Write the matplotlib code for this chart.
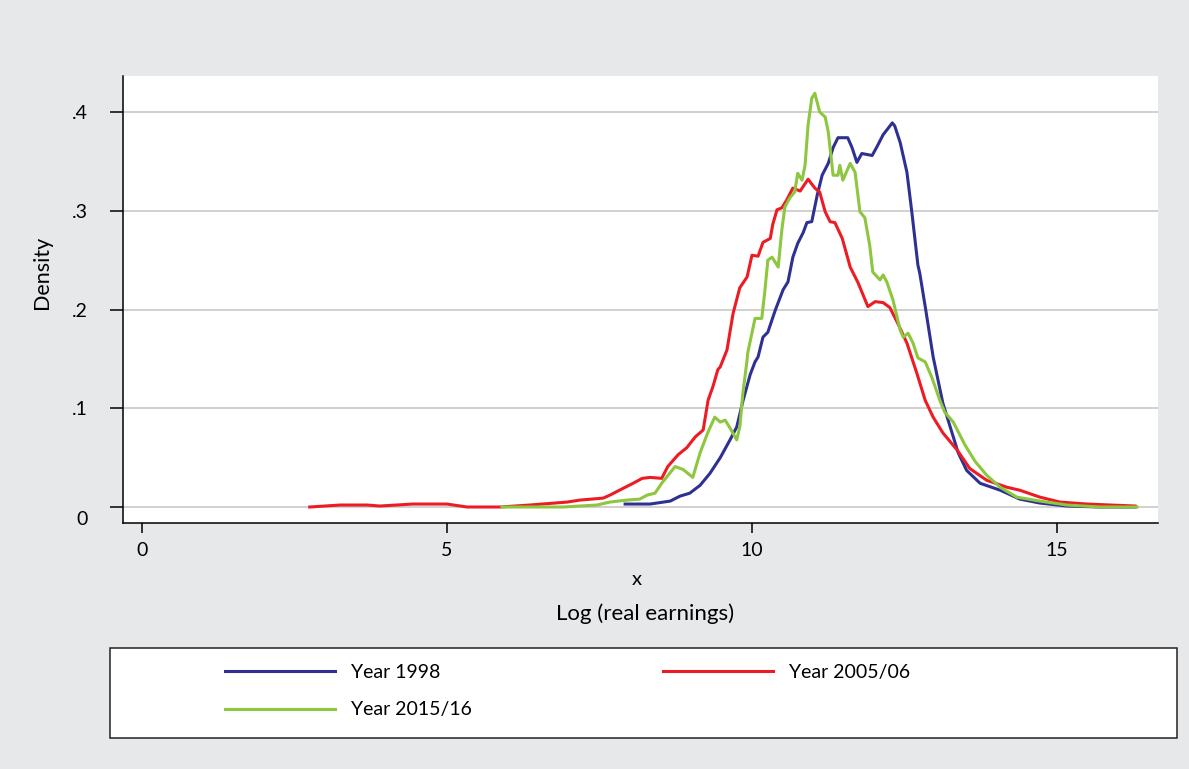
import numpy as np
import matplotlib.pyplot as plt
from matplotlib.patches import Rectangle
from matplotlib.transforms import ScaledTranslation

plt.rcParams["font.family"] = ["Lato", "DejaVu Sans"]

# kernel density of log real earnings
x_1998 = [7.92, 8.33, 8.66, 8.82, 8.98, 9.15, 9.31, 9.48, 9.64, 9.75, 9.85, 9.97,
          10.05, 10.10, 10.18, 10.26, 10.38, 10.51, 10.59, 10.67, 10.75, 10.84,
          10.90, 10.98, 11.07, 11.15, 11.25, 11.33, 11.41, 11.49, 11.57, 11.64,
          11.72, 11.80, 11.97, 12.05, 12.15, 12.30, 12.34, 12.43, 12.54, 12.62,
          12.72, 12.75, 12.84, 12.97, 13.13, 13.25, 13.38, 13.52, 13.74, 14.07,
          14.39, 14.72, 15.16, 15.70, 16.28]
d_1998 = [0.003, 0.003, 0.006, 0.011, 0.014, 0.022, 0.034, 0.050, 0.068, 0.081,
          0.107, 0.134, 0.147, 0.152, 0.172, 0.177, 0.199, 0.220, 0.228, 0.253,
          0.267, 0.278, 0.288, 0.289, 0.316, 0.336, 0.348, 0.364, 0.374, 0.374,
          0.374, 0.364, 0.349, 0.358, 0.356, 0.365, 0.377, 0.389, 0.386, 0.369,
          0.339, 0.299, 0.245, 0.237, 0.203, 0.152, 0.105, 0.081, 0.055, 0.037,
          0.024, 0.017, 0.008, 0.004, 0.001, 0.0, 0.0]

x_2005 = [2.75, 3.25, 3.69, 3.90, 4.44, 5.00, 5.33, 5.87, 6.36, 6.97, 7.18, 7.56,
          7.67, 7.89, 8.05, 8.20, 8.33, 8.52, 8.62, 8.79, 8.93, 9.07, 9.20, 9.28,
          9.36, 9.44, 9.48, 9.59, 9.69, 9.80, 9.92, 10.00, 10.10, 10.18, 10.30,
          10.34, 10.41, 10.49, 10.57, 10.67, 10.79, 10.92, 11.03, 11.11, 11.20,
          11.28, 11.36, 11.48, 11.57, 11.61, 11.74, 11.90, 12.02, 12.15, 12.26,
          12.39, 12.54, 12.70, 12.84, 12.97, 13.13, 13.36, 13.57, 13.85, 14.18,
          14.39, 14.72, 15.05, 15.49, 16.28]
d_2005 = [0.0, 0.002, 0.002, 0.001, 0.003, 0.003, 0.0, 0.0, 0.002, 0.005, 0.007,
          0.009, 0.012, 0.019, 0.024, 0.029, 0.030, 0.029, 0.041, 0.053, 0.060,
          0.071, 0.078, 0.108, 0.122, 0.139, 0.142, 0.159, 0.196, 0.222, 0.233,
          0.255, 0.254, 0.268, 0.272, 0.286, 0.301, 0.303, 0.311, 0.323, 0.320,
          0.332, 0.323, 0.319, 0.299, 0.289, 0.288, 0.272, 0.252, 0.243, 0.227,
          0.203, 0.208, 0.207, 0.202, 0.186, 0.166, 0.136, 0.108, 0.091, 0.075,
          0.058, 0.039, 0.027, 0.020, 0.017, 0.010, 0.005, 0.003, 0.001]

x_2015 = [5.90, 6.36, 6.90, 7.46, 7.67, 7.95, 8.16, 8.28, 8.41, 8.52, 8.74, 8.87,
          9.03, 9.15, 9.28, 9.39, 9.48, 9.56, 9.64, 9.75, 9.80, 9.85, 9.92, 9.93,
          10.05, 10.16, 10.21, 10.26, 10.33, 10.43, 10.49, 10.54, 10.62, 10.70,
          10.75, 10.82, 10.87, 10.92, 10.98, 11.03, 11.11, 11.20, 11.25, 11.33,
          11.41, 11.44, 11.49, 11.56, 11.61, 11.69, 11.77, 11.85, 11.93, 11.98,
          12.10, 12.15, 12.21, 12.31, 12.43, 12.48, 12.56, 12.64, 12.72, 12.84,
          12.95, 13.08, 13.16, 13.30, 13.49, 13.66, 13.85, 14.07, 14.34, 14.72,
          15.16, 15.70, 16.31]
d_2015 = [0.0, 0.0, 0.0, 0.002, 0.005, 0.007, 0.008, 0.012, 0.014, 0.024, 0.041,
          0.038, 0.030, 0.055, 0.076, 0.091, 0.086, 0.088, 0.080, 0.068, 0.081,
          0.115, 0.149, 0.156, 0.191, 0.191, 0.218, 0.250, 0.253, 0.243, 0.281,
          0.304, 0.313, 0.319, 0.338, 0.331, 0.346, 0.387, 0.414, 0.419, 0.400,
          0.395, 0.380, 0.336, 0.336, 0.346, 0.331, 0.341, 0.348, 0.339, 0.299,
          0.293, 0.265, 0.238, 0.230, 0.235, 0.228, 0.210, 0.179, 0.172, 0.176,
          0.166, 0.151, 0.147, 0.131, 0.108, 0.096, 0.086, 0.063, 0.046, 0.032,
          0.020, 0.010, 0.006, 0.002, 0.0, 0.0]

labels = ["Year 1998", "Year 2005/06", "Year 2015/16"]
colors = ["#2e3192", "#ed1c24", "#8dc63f"]

W, H = 1189, 769
fig = plt.figure(figsize=(W / 100, H / 100), dpi=100, facecolor="#e7e8ea")
ax = fig.add_axes([123 / W, 1 - 523 / H, 1035 / W, 447 / H])
ax.set_facecolor("white")

lines = []
for xs, ds, lab, col in zip([x_1998, x_2005, x_2015], [d_1998, d_2005, d_2015],
                            labels, colors):
    ln, = ax.plot(xs, ds, color=col, lw=2.2, label=lab, solid_joinstyle="round")
    lines.append(ln)

ax.set_xlim(-0.311, 16.656)
ax.set_ylim(-0.0162, 0.4365)
ax.set_xticks([0, 5, 10, 15])
ax.set_yticks([0, 0.1, 0.2, 0.3, 0.4])
ax.set_yticklabels(["0", ".1", ".2", ".3", ".4"])
ax.grid(axis="y", color="#c4c4c4", lw=1.1)
ax.set_axisbelow(True)
for s in ["top", "right"]:
    ax.spines[s].set_visible(False)
for s in ["left", "bottom"]:
    ax.spines[s].set_linewidth(1.1)
ax.tick_params(axis="y", length=9.5, width=1.1, pad=16, labelsize=14)
ax.tick_params(axis="x", length=7.5, width=1.1, pad=6, labelsize=14)

# the "0" label sits a little lower in the reference
lab0 = ax.yaxis.get_major_ticks()[0].label1
lab0.set_transform(lab0.get_transform() + ScaledTranslation(0, -11 / 100, fig.dpi_scale_trans))

ax.set_ylabel("Density", fontsize=15.5)
ax.yaxis.label.set_va("center")
ax.yaxis.set_label_coords(-0.0783, 0.5615)
ax.set_xlabel("x", fontsize=14.5)
ax.xaxis.label.set_va("center")
ax.xaxis.set_label_coords(0.496, -0.1275)
fig.text(645 / W, 1 - 614 / H, "Log (real earnings)", ha="center", va="center", fontsize=16)

# legend box
fig.add_artist(Rectangle((110 / W, 1 - 738 / H), 1067 / W, 90 / H, transform=fig.transFigure,
                         facecolor="white", edgecolor="#222222", lw=1.1))
order = [0, 2, 1]
fig.legend([lines[i] for i in order], [labels[i] for i in order], ncol=2,
           loc="upper left", bbox_to_anchor=(225 / W, 1 - 664 / H),
           bbox_transform=fig.transFigure, frameon=False, fontsize=14,
           handlelength=5.67, handletextpad=0.82, columnspacing=9.8,
           labelspacing=1.05, borderpad=0, borderaxespad=0)

plt.savefig("out.png", dpi=100, facecolor=fig.get_facecolor())
